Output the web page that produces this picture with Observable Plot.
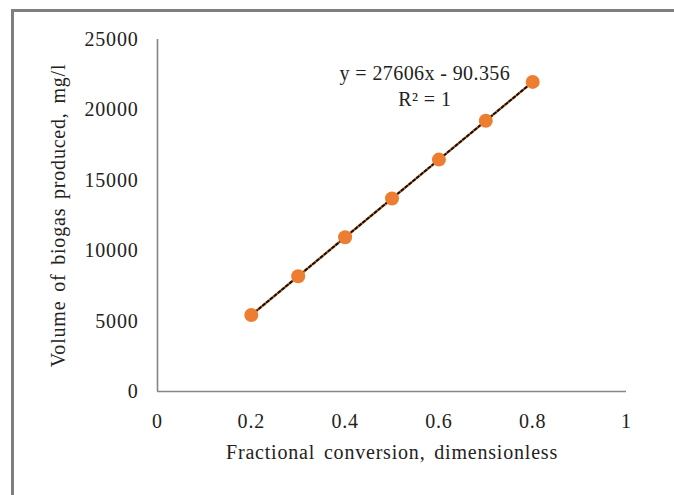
<!DOCTYPE html>
<html>
<head>
<meta charset="utf-8">
<script src="https://cdn.jsdelivr.net/npm/d3@7"></script>
<script src="https://cdn.jsdelivr.net/npm/@observablehq/plot@0.6"></script>
<style>
  html, body { margin: 0; padding: 0; background: #fff; overflow: hidden; width: 674px; height: 495px; }
  #frame { position: absolute; left: 11px; top: 9px; width: 800px; height: 600px;
           border-left: 3px solid #7f7f7f; border-top: 3px solid #7f7f7f; }
  #chart { position: absolute; left: 0; top: 0; }
</style>
</head>
<body>
<div id="frame"></div>
<div id="chart"></div>
<script>
const conversion = [0.2, 0.3, 0.4, 0.5, 0.6, 0.7, 0.8];
const biogas = [5430, 8190, 10950, 13710, 16470, 19230, 21990];
const xTicks = [0, 0.2, 0.4, 0.6, 0.8, 1];
const yTicks = [0, 5000, 10000, 15000, 20000, 25000];
const xTitle = "Fractional conversion, dimensionless";
const yTitle = "Volume of biogas produced, mg/l";
const equationLine1 = "y = 27606x - 90.356";
const equationLine2 = "R\u00B2 = 1";
const equationPos = {x: 0.57, y: 21768};

const data = conversion.map((x, i) => ({x, y: biogas[i]}));
const orange = "#ED7D31";
const axisGray = "#868686";
const font = "'Liberation Serif', 'Times New Roman', serif";

const chart = Plot.plot({
  width: 674,
  height: 495,
  marginLeft: 157,
  marginRight: 48,
  marginTop: 39,
  marginBottom: 104,
  style: {fontFamily: font, fontSize: "20px", color: "#222", background: "transparent", letterSpacing: "0.8px", wordSpacing: "3px"},
  x: {domain: [0, 1], ticks: xTicks, tickFormat: d => String(d)},
  y: {domain: [0, 25000], ticks: yTicks, tickFormat: d => String(d)},
  marks: [
    Plot.axisX({ticks: xTicks, tickSize: 0, tickPadding: 22, label: null, tickFormat: d => String(d), fontSize: 20}),
    Plot.axisY({ticks: yTicks, tickSize: 0, tickPadding: 19, label: null, tickFormat: d => String(d), fontSize: 20}),
    Plot.ruleY([0], {stroke: axisGray, strokeWidth: 1.6}),
    Plot.ruleX([0], {stroke: axisGray, strokeWidth: 1.6}),
    Plot.line(data, {x: "x", y: "y", stroke: orange, strokeWidth: 2.5}),
    Plot.linearRegressionY(data, {x: "x", y: "y", ci: 0, stroke: "#111", strokeWidth: 2, strokeDasharray: "2.5,2.5"}),
    Plot.dot(data, {x: "x", y: "y", r: 7, fill: orange, stroke: "none"}),
    Plot.text([equationLine1 + "\n" + equationLine2], {x: () => equationPos.x, y: () => equationPos.y, text: d => d, fontSize: 20, lineHeight: 1.3, lineAnchor: "middle", fill: "#222"}),
    Plot.text([xTitle], {frameAnchor: "bottom", dy: 61, text: d => d, fontSize: 20, lineAnchor: "middle", textAnchor: "middle", fill: "#222"}),
    Plot.text([yTitle], {frameAnchor: "left", dx: -99, rotate: -90, text: d => d, fontSize: 20, lineAnchor: "middle", textAnchor: "middle", fill: "#222"})
  ]
});
d3.select(chart).selectAll("text")
  .filter(function() { return this.textContent.includes("27606"); })
  .style("word-spacing", "0px").style("letter-spacing", "0.4px");
document.getElementById("chart").appendChild(chart);
</script>
</body>
</html>
